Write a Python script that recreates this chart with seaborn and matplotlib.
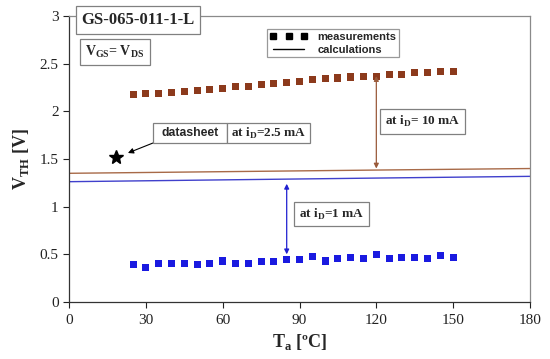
import pandas as pd
import matplotlib
matplotlib.use('Agg')
import matplotlib.pyplot as plt
import seaborn as sns
from matplotlib.lines import Line2D
from matplotlib.patches import Rectangle
from matplotlib.ticker import FormatStrFormatter

# data
temps = [25, 30, 35, 40, 45, 50, 55, 60, 65, 70, 75, 80, 85,
         90, 95, 100, 105, 110, 115, 120, 125, 130, 135, 140, 145, 150]
vth_10ma = [2.18, 2.19, 2.19, 2.20, 2.21, 2.22, 2.23, 2.24, 2.26, 2.26, 2.28, 2.29, 2.30,
            2.31, 2.33, 2.34, 2.35, 2.36, 2.37, 2.37, 2.39, 2.39, 2.41, 2.41, 2.42, 2.42]
vth_1ma = [0.395, 0.36, 0.405, 0.405, 0.40, 0.39, 0.405, 0.43, 0.405, 0.405, 0.42, 0.42, 0.45,
           0.45, 0.475, 0.43, 0.455, 0.465, 0.46, 0.50, 0.455, 0.465, 0.465, 0.455, 0.49, 0.47]
calc_t = [0, 60, 120, 180]
calc_10ma = [1.350, 1.367, 1.384, 1.400]
calc_1ma = [1.262, 1.281, 1.300, 1.318]
datasheet_t = [18.5]
datasheet_v = [1.52]

meas = pd.DataFrame({'T': temps * 2,
                     'V': vth_10ma + vth_1ma,
                     'i': ['10 mA'] * len(temps) + ['1 mA'] * len(temps)})
calc = pd.DataFrame({'T': calc_t * 2,
                     'V': calc_10ma + calc_1ma,
                     'i': ['10 mA'] * len(calc_t) + ['1 mA'] * len(calc_t)})

sns.set_style('white')
plt.rcParams['font.family'] = ['Liberation Serif', 'DejaVu Serif']
plt.rcParams['mathtext.fontset'] = 'custom'
plt.rcParams['mathtext.rm'] = 'Liberation Serif'
plt.rcParams['mathtext.bf'] = 'Liberation Serif:bold'

colors = {'10 mA': '#8c3a1c', '1 mA': '#1a1ae0'}
line_colors = {'10 mA': '#a86a48', '1 mA': '#4040cc'}

fig = plt.figure(figsize=(5.5, 3.59), dpi=100)
ax = fig.add_axes([0.1255, 0.1588, 0.8381, 0.7966])

sns.lineplot(data=calc, x='T', y='V', hue='i', palette=line_colors, ax=ax,
             linewidth=1.0, legend=False)
sns.scatterplot(data=meas, x='T', y='V', hue='i', palette=colors, ax=ax,
                marker='s', s=26, linewidth=0, legend=False)
ax.plot(datasheet_t, datasheet_v, marker='*', color='black', markersize=10, ls='none')

ax.set_xlim(0, 180)
ax.set_ylim(0, 3)
ax.set_xticks(range(0, 181, 30))
ax.set_yticks([0, 0.5, 1, 1.5, 2, 2.5, 3])
ax.yaxis.set_major_formatter(FormatStrFormatter('%g'))
ax.tick_params(axis='both', direction='out', length=4, width=0.8,
               labelsize=11, colors='#222222', left=True, bottom=True)
ax.tick_params(axis='x', pad=5)
for side in ['left', 'bottom']:
    ax.spines[side].set_color('#333333')
    ax.spines[side].set_linewidth(0.9)
for side in ['top', 'right']:
    ax.spines[side].set_color('#8a8a8a')
    ax.spines[side].set_linewidth(0.9)

ax.set_xlabel('T$_{\\mathbf{a}}$ [ºC]', fontsize=13, fontweight='bold', labelpad=3)
ax.set_ylabel('V$_{\\mathbf{TH}}$ [V]', fontsize=13, fontweight='bold', labelpad=6)

box = dict(boxstyle='square,pad=0.35', facecolor='white', edgecolor='#808080', linewidth=0.9)

fig.text(138 / 550, 1 - 20 / 359, 'GS-065-011-1-L', ha='center', va='center',
         fontsize=12, fontweight='bold', bbox=dict(boxstyle='square,pad=0.35', facecolor='white',
                                                   edgecolor='#808080', linewidth=0.9))
fig.text(115 / 550, 1 - 52 / 359, 'V$_{\\mathbf{GS}}$= V$_{\\mathbf{DS}}$', ha='center', va='center',
         fontsize=10, fontweight='bold', bbox=dict(boxstyle='square,pad=0.38', facecolor='white',
                                                   edgecolor='#808080', linewidth=0.9))

# datasheet label: two adjoining boxes
for x0, x1 in [(32.8, 61.7), (61.7, 94.1)]:
    ax.add_patch(Rectangle((x0, 1.668), x1 - x0, 0.21, facecolor='white',
                           edgecolor='#808080', linewidth=0.9, zorder=4))
ax.text(47.2, 1.773, 'datasheet', ha='center', va='center', fontsize=8.8,
        fontweight='bold', family='Liberation Sans', zorder=5)
ax.text(77.9, 1.773, 'at i$_{\\mathbf{D}}$=2.5 mA', ha='center', va='center',
        fontsize=9.5, fontweight='bold', zorder=5)
ax.annotate('', xy=(23.0, 1.563), xytext=(32.8, 1.668),
            arrowprops=dict(arrowstyle='-|>', color='black', lw=0.8, mutation_scale=8,
                            shrinkA=0, shrinkB=0))

ax.text(138, 1.895, 'at i$_{\\mathbf{D}}$= 10 mA', ha='center', va='center',
        fontsize=9.5, fontweight='bold', bbox=box)
ax.annotate('', xy=(120, 1.40), xytext=(120, 2.37),
            arrowprops=dict(arrowstyle='<|-|>', color='#9a5a3a', lw=0.9, mutation_scale=7,
                            shrinkA=0, shrinkB=0))

ax.text(102.5, 0.92, 'at i$_{\\mathbf{D}}$=1 mA', ha='center', va='center',
        fontsize=9.5, fontweight='bold', bbox=box)
ax.annotate('', xy=(85, 1.24), xytext=(85, 0.50),
            arrowprops=dict(arrowstyle='<|-|>', color='#2020d0', lw=0.9, mutation_scale=7,
                            shrinkA=0, shrinkB=0))

# legend
handles = [Line2D([], [], ls='none', marker='s', color='black', markersize=5),
           Line2D([], [], color='black', lw=1.0)]
leg = fig.legend(handles, ['measurements', 'calculations'], loc='upper left',
                 bbox_to_anchor=(267 / 550, 1 - 29 / 359), borderaxespad=0,
                 numpoints=3, handlelength=3.4, handletextpad=0.9, borderpad=0.25,
                 labelspacing=0.25, frameon=True, fancybox=False,
                 prop={'family': 'Liberation Sans', 'weight': 'bold', 'size': 8})
leg.get_frame().set_edgecolor('#808080')
leg.get_frame().set_linewidth(0.9)

fig.savefig('out.png', dpi=100)
